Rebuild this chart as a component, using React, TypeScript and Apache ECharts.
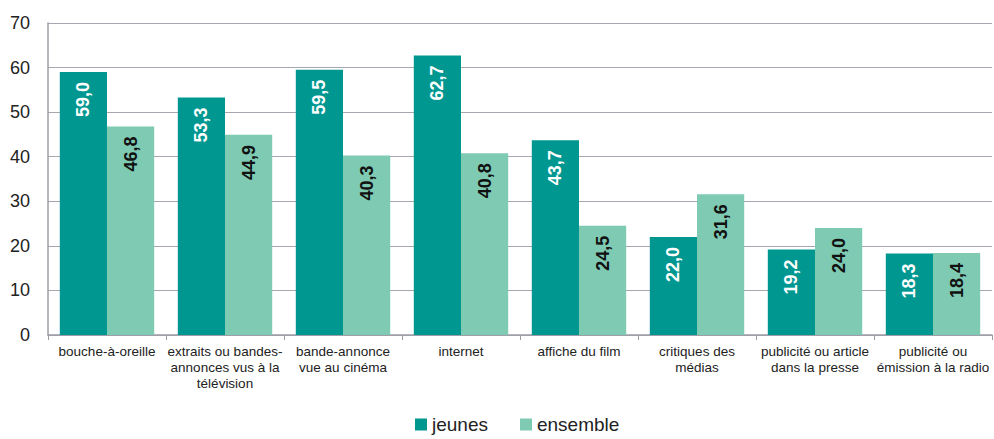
import React, { useEffect, useRef } from "react";
import * as echarts from "echarts";

const categories = [
  "bouche-à-oreille",
  "extraits ou bandes-\nannonces vus à la\ntélévision",
  "bande-annonce\nvue au cinéma",
  "internet",
  "affiche du film",
  "critiques des\nmédias",
  "publicité ou article\ndans la presse",
  "publicité ou\némission à la radio",
];
const jeunes = [59.0, 53.3, 59.5, 62.7, 43.7, 22.0, 19.2, 18.3];
const ensemble = [46.8, 44.9, 40.3, 40.8, 24.5, 31.6, 24.0, 18.4];
const seriesNames = ["jeunes", "ensemble"];

const fmt = (p: any) => Number(p.value).toFixed(1).replace(".", ",");

export default function App() {
  const ref = useRef<HTMLDivElement>(null);
  useEffect(() => {
    document.body.style.margin = "0";
    if (!ref.current) return;
    const chart = echarts.init(ref.current, null, { renderer: "svg" });
    const labelBase = {
      show: true,
      position: "insideTop",
      rotate: 90,
      align: "right",
      verticalAlign: "middle",
      distance: 10,
      fontFamily: "Liberation Sans, Arial, sans-serif",
      fontSize: 18,
      fontWeight: "bold",
      formatter: fmt,
    };
    chart.setOption({
      animation: false,
      textStyle: { fontFamily: "Liberation Sans, Arial, sans-serif" },
      grid: { left: 48, right: 2, top: 23, bottom: 104, containLabel: false },
      legend: {
        bottom: 0,
        left: 410,
        itemWidth: 12,
        itemHeight: 12,
        itemGap: 32,
        icon: "rect",
        textStyle: { fontSize: 19, color: "#222", fontFamily: "Liberation Sans, Arial, sans-serif" },
        data: seriesNames,
      },
      xAxis: {
        type: "category",
        data: categories,
        axisLine: { show: true, lineStyle: { color: "#9d9ca6", width: 1.5 } },
        axisTick: { show: true, alignWithLabel: false, length: 5, lineStyle: { color: "#9d9ca6" } },
        axisLabel: {
          interval: 0,
          color: "#222",
          fontSize: 13.5,
          lineHeight: 16,
          margin: 8,
          fontFamily: "Liberation Sans, Arial, sans-serif",
        },
      },
      yAxis: {
        type: "value",
        min: 0,
        max: 70,
        interval: 10,
        axisLine: { show: true, lineStyle: { color: "#9d9ca6", width: 1.5 } },
        axisTick: { show: false },
        splitLine: { show: true, lineStyle: { color: "#a8a7b0", width: 1.2 } },
        axisLabel: {
          color: "#222",
          fontSize: 18,
          margin: 18,
          fontFamily: "Liberation Sans, Arial, sans-serif",
        },
      },
      series: [
        {
          name: seriesNames[0],
          type: "bar",
          data: jeunes,
          barCategoryGap: "20%",
          barGap: "0%",
          itemStyle: { color: "#009791" },
          label: { ...labelBase, color: "#ffffff" },
        },
        {
          name: seriesNames[1],
          type: "bar",
          data: ensemble,
          barCategoryGap: "20%",
          barGap: "0%",
          itemStyle: { color: "#7ecab2" },
          label: { ...labelBase, color: "#111111" },
        },
      ],
    });
    return () => chart.dispose();
  }, []);
  return <div ref={ref} style={{ width: 994, height: 439 }} />;
}
